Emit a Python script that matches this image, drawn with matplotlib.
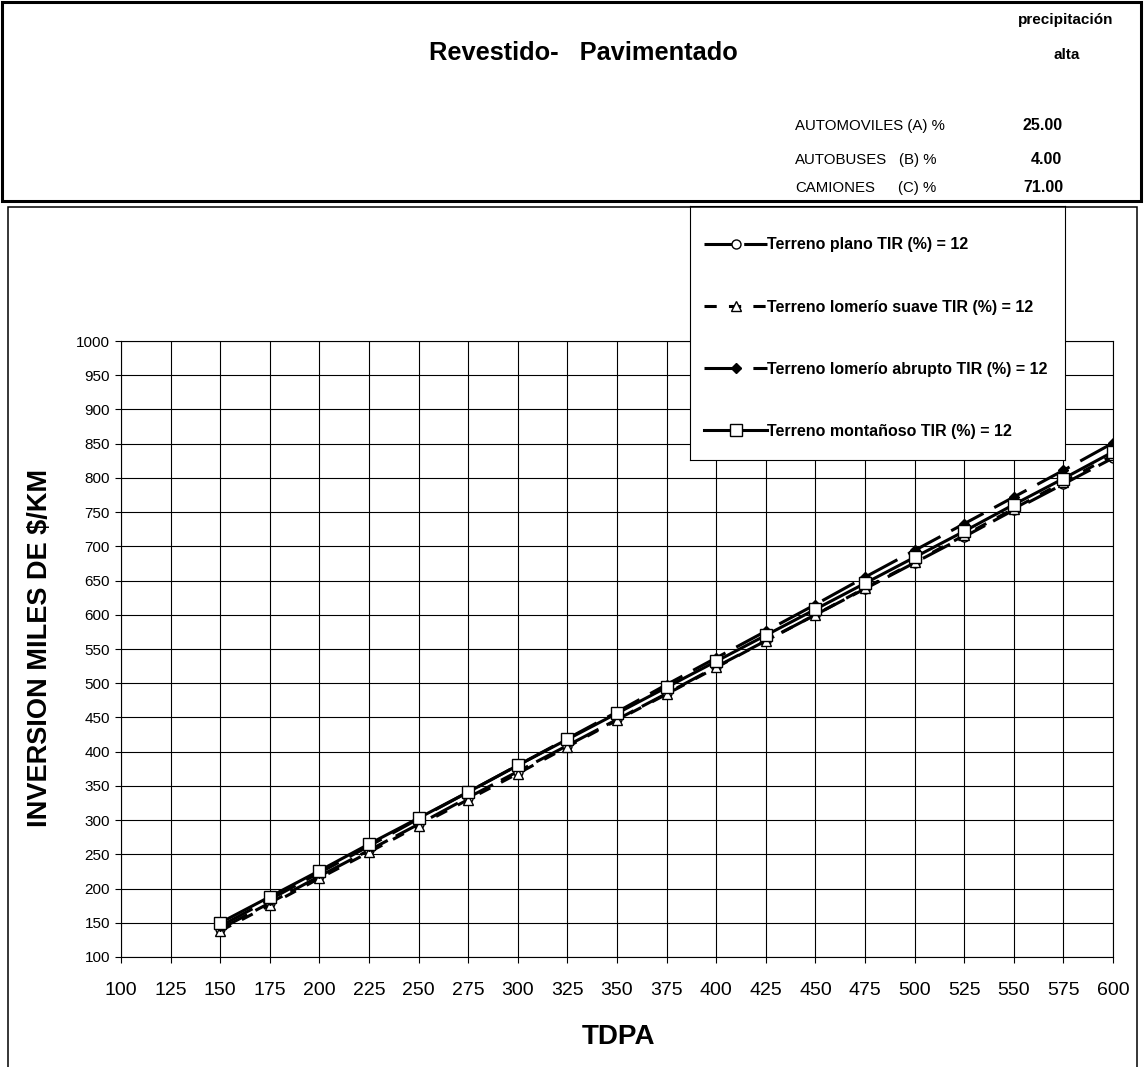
import numpy as np
import matplotlib
matplotlib.use("Agg")
import matplotlib.pyplot as plt
from matplotlib.patches import Rectangle

plt.rcParams['font.family'] = ['Liberation Sans', 'DejaVu Sans']

# data
tdpa = [150, 175, 200, 225, 250, 275, 300, 325, 350, 375,
        400, 425, 450, 475, 500, 525, 550, 575, 600]
plano = [141, 179, 218, 256, 294, 333, 371, 409, 447, 485,
         524, 562, 600, 638, 676, 714, 753, 791, 829]
suave = [138, 176, 215, 253, 292, 330, 368, 407, 446, 484,
         523, 562, 600, 639, 677, 716, 755, 794, 833]
abrupto = [145, 184, 223, 262, 302, 341, 380, 419, 458, 498,
           537, 576, 615, 655, 694, 733, 772, 811, 851]
montanoso = [150, 188, 226, 265, 303, 341, 380, 418, 456, 494,
             532, 570, 608, 646, 684, 722, 761, 799, 838]

labels = ["Terreno plano TIR (%) = 12",
          "Terreno lomerío suave TIR (%) = 12",
          "Terreno lomerío abrupto TIR (%) = 12",
          "Terreno montañoso TIR (%) = 12"]

xticks = list(range(100, 601, 25))
yticks = list(range(100, 1001, 50))

W, H = 1144, 1067
def fx(p): return p / W
def fy(p): return 1 - p / H

fig = plt.figure(figsize=(W / 100, H / 100), dpi=100)

# header box and chart frame
fig.patches.append(Rectangle((fx(2), fy(201)), fx(1139), 199 / H, transform=fig.transFigure,
                             fill=False, lw=2.2, ec='black'))
fig.patches.append(Rectangle((fx(8), fy(1075)), fx(1129), 868 / H, transform=fig.transFigure,
                             fill=False, lw=1.1, ec='black'))

fig.text(fx(583), fy(53), "Revestido-   Pavimentado", ha='center', va='center',
         fontsize=18.3, fontweight='bold')
fig.text(fx(1066), fy(20), "precipitación", ha='center', va='center', fontsize=11, fontweight='bold')
fig.text(fx(1067), fy(55), "alta", ha='center', va='center', fontsize=11, fontweight='bold')

hs = 10.8
fig.text(fx(795), fy(126), "AUTOMOVILES (A) %", ha='left', va='center', fontsize=hs)
fig.text(fx(795), fy(160), "AUTOBUSES", ha='left', va='center', fontsize=hs)
fig.text(fx(936), fy(160), "(B) %", ha='right', va='center', fontsize=hs)
fig.text(fx(795), fy(188), "CAMIONES", ha='left', va='center', fontsize=hs)
fig.text(fx(936), fy(188), "(C) %", ha='right', va='center', fontsize=hs)
fig.text(fx(1043), fy(126), "25.00", ha='center', va='center', fontsize=11.5, fontweight='bold')
fig.text(fx(1046), fy(160), "4.00", ha='center', va='center', fontsize=11.5, fontweight='bold')
fig.text(fx(1043), fy(188), "71.00", ha='center', va='center', fontsize=11.5, fontweight='bold')

# main axes
ax = fig.add_axes([fx(121), fy(957), (1113 - 121) / W, (957 - 341) / H])
ax.set_xlim(100, 600)
ax.set_ylim(100, 1000)
ax.set_xticks(xticks)
ax.set_yticks(yticks)
ax.grid(True, color='black', lw=0.8)
ax.set_axisbelow(True)
for s in ax.spines.values():
    s.set_linewidth(0.8)
ax.tick_params(axis='x', direction='out', length=4, width=0.8, pad=14, labelsize=14)
ax.tick_params(axis='y', direction='out', length=4, width=0.8, pad=4, labelsize=11)

lw = 2.2
h1, = ax.plot(tdpa, plano, color='black', lw=lw, dashes=(10, 3), marker='o', ms=6.5,
              mfc='white', mec='black', mew=1.0, label=labels[0])
h2, = ax.plot(tdpa, suave, color='black', lw=lw, dashes=(4, 4), marker='^', ms=6.5,
              mfc='white', mec='black', mew=1.0, label=labels[1])
h3, = ax.plot(tdpa, abrupto, color='black', lw=lw, dashes=(12, 4), marker='D', ms=5.5,
              mfc='black', mec='black', label=labels[2])
h4, = ax.plot(tdpa, montanoso, color='black', lw=lw, marker='s', ms=8.5,
              mfc='white', mec='black', mew=1.0, label=labels[3])

fig.text(fx(618), fy(1037), "TDPA", ha='center', va='center', fontsize=20, fontweight='bold')
fig.text(fx(40), fy(648), "INVERSION MILES DE $/KM", ha='center', va='center', rotation=90,
         fontsize=19.5, fontweight='bold')

# legend box
lax = fig.add_axes([fx(690), fy(460), (1065 - 690) / W, (460 - 206) / H])
lax.set_xticks([])
lax.set_yticks([])
lax.set_facecolor('white')
for s in lax.spines.values():
    s.set_linewidth(0.8)
lax.legend(handles=[h1, h2, h3, h4], loc='center left', frameon=False,
           prop={'weight': 'bold', 'size': 11.5}, handlelength=3.9, handletextpad=0.05,
           labelspacing=2.95, borderaxespad=0.5, bbox_to_anchor=(0, 0.48))

fig.savefig("out.png", dpi=100)
